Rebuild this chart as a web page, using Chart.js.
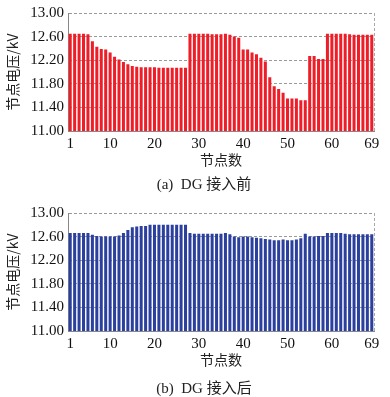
<!DOCTYPE html>
<html>
<head>
<meta charset="utf-8">
<script src="https://cdn.jsdelivr.net/npm/chart.js"></script>
<style>
  body { margin: 0; background: #fff; }
  #wrap { position: relative; width: 390px; height: 397px; }
  .box { position: absolute; left: 0; width: 390px; height: 200px; }
  .cap { position: absolute; left: 0; width: 408px; text-align: center;
         font-family: "Liberation Serif", "Noto Sans CJK SC", serif; font-size: 15px; color: #222; }
</style>
</head>
<body>
<div id="wrap">
  <div class="box" style="top:0"><canvas id="before" width="390" height="200"></canvas></div>
  <div class="cap" style="top:172px">(a)&nbsp;&nbsp;DG 接入前</div>
  <div class="box" style="top:200px"><canvas id="after" width="390" height="200"></canvas></div>
  <div class="cap" style="top:376px">(b)&nbsp;&nbsp;DG 接入后</div>
</div>
<script>
// node numbers 1..69
const nodes = Array.from({ length: 69 }, (_, i) => String(i + 1));
const xTickLabels = ['1', '10', '20', '30', '40', '50', '60', '69'];

// node voltage (kV) before DG is connected
const voltBefore = [
    12.65, 12.65, 12.65, 12.65, 12.64,
    12.52, 12.43, 12.39, 12.38, 12.33,
    12.26, 12.21, 12.17, 12.13, 12.10,
    12.09, 12.08, 12.08, 12.08, 12.08,
    12.07, 12.07, 12.07, 12.07, 12.07,
    12.07, 12.07, 12.65, 12.65, 12.65,
    12.65, 12.65, 12.64, 12.64, 12.64,
    12.65, 12.63, 12.60, 12.58, 12.38,
    12.38, 12.33, 12.30, 12.24, 12.18,
    11.91, 11.76, 11.71, 11.65, 11.55,
    11.55, 11.55, 11.52, 11.52, 12.27,
    12.27, 12.22, 12.22, 12.65, 12.65,
    12.65, 12.65, 12.65, 12.64, 12.63,
    12.63, 12.63, 12.63, 12.63
];

// node voltage (kV) after DG is connected
const voltAfter = [
    12.66, 12.66, 12.66, 12.66, 12.66,
    12.63, 12.61, 12.60, 12.60, 12.60,
    12.60, 12.62, 12.66, 12.71, 12.76,
    12.77, 12.78, 12.78, 12.80, 12.80,
    12.80, 12.80, 12.80, 12.80, 12.80,
    12.80, 12.80, 12.66, 12.65, 12.65,
    12.65, 12.65, 12.65, 12.65, 12.65,
    12.66, 12.64, 12.60, 12.59, 12.60,
    12.60, 12.59, 12.58, 12.57, 12.56,
    12.55, 12.54, 12.54, 12.55, 12.54,
    12.54, 12.55, 12.57, 12.65, 12.60,
    12.60, 12.61, 12.61, 12.66, 12.66,
    12.66, 12.66, 12.65, 12.64, 12.64,
    12.64, 12.64, 12.64, 12.64
];

const serif = "'Liberation Serif', 'Noto Sans CJK SC', serif";
const cjk = "'Noto Sans CJK SC', 'Liberation Serif', sans-serif";

// dashed frame line on the right side of the plot
const rightBorder = {
    id: 'rightBorder',
    afterDraw(chart) {
        const a = chart.chartArea;
        const ctx = chart.ctx;
        ctx.save();
        ctx.strokeStyle = '#aaa';
        ctx.lineWidth = 1;
        ctx.setLineDash([3, 2]);
        ctx.beginPath();
        ctx.moveTo(a.right + 0.5, a.top);
        ctx.lineTo(a.right + 0.5, a.bottom);
        ctx.stroke();
        ctx.restore();
    }
};

function makeChart(id, values, color) {
    new Chart(document.getElementById(id).getContext('2d'), {
        type: 'bar',
        data: {
            labels: nodes,
            datasets: [{
                data: values,
                backgroundColor: color,
                borderWidth: 0,
                categoryPercentage: 1,
                barPercentage: 0.68
            }]
        },
        options: {
            responsive: false,
            animation: false,
            layout: { padding: { left: 0, right: 16, top: 7, bottom: 32 } },
            plugins: { legend: { display: false }, tooltip: { enabled: false } },
            scales: {
                x: {
                    grid: { display: false, drawTicks: false },
                    border: { display: true, color: '#888', width: 1 },
                    ticks: {
                        autoSkip: false,
                        maxRotation: 0,
                        padding: 4,
                        color: '#111',
                        font: { family: serif, size: 15 },
                        callback: function (v) {
                            const lab = this.getLabelForValue(v);
                            return xTickLabels.includes(lab) ? lab : '';
                        }
                    },
                    title: {
                        display: true,
                        text: '节点数',
                        color: '#222',
                        font: { family: cjk, size: 14 },
                        padding: { top: 0, bottom: 0 }
                    },
                    afterFit: s => { s.height = 37; }
                },
                y: {
                    min: 11,
                    max: 13,
                    grid: { color: '#999', lineWidth: 1, drawTicks: false },
                    border: { display: true, color: '#888', width: 1, dash: [3, 2] },
                    ticks: {
                        stepSize: 0.4,
                        padding: 4,
                        color: '#111',
                        font: { family: serif, size: 15 },
                        callback: v => Number(v).toFixed(2)
                    },
                    title: {
                        display: true,
                        text: '节点电压/kV',
                        color: '#222',
                        font: { family: cjk, size: 14 },
                        padding: { top: 4, bottom: 0 }
                    },
                    afterFit: s => { s.width = 68; }
                }
            }
        },
        plugins: [rightBorder]
    });
}

makeChart('before', voltBefore, '#ef1d27');
makeChart('after', voltAfter, '#2b3f9e');
</script>
</body>
</html>
